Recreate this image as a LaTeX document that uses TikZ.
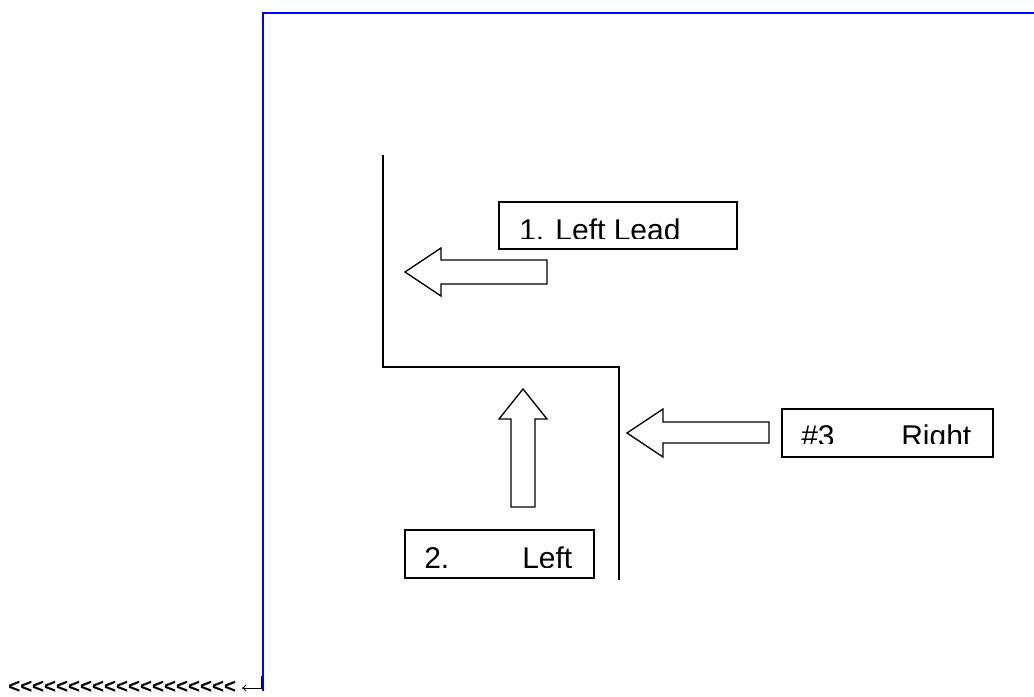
\documentclass[tikz,border=0pt]{standalone}
\usepackage{fontspec}
\setmainfont{Liberation Sans}
\newfontfamily\chevfont[Ligatures=TeXOff]{Liberation Sans Bold}
\usetikzlibrary{arrows.meta}
\begin{document}
\begin{tikzpicture}[x=0.75pt,y=-0.75pt,
  wall/.style={draw=black,line width=1.5pt},
  frame/.style={draw=blue,line width=1.5pt},
  bigarrow/.style={draw=black,line width=1pt,fill=white,line join=miter},
  labelbox/.style={draw=black,line width=1.5pt,fill=white},
  lbl/.style={anchor=base west,inner sep=0pt,font=\fontsize{22.5pt}{24pt}\selectfont},
  chev/.style={anchor=base west,inner sep=0pt,font=\chevfont\fontsize{15.4pt}{18pt}\selectfont}]
\useasboundingbox (0,0) rectangle (1034,696);
% blue frame
\coordinate (fA) at (1034,13);
\coordinate (fB) at (263,13);
\coordinate (fC) at (263,691);
\draw[frame] (fA) -- (fB) -- (fC);
% walls
\coordinate (w1) at (383,155);
\coordinate (w2) at (383,367);
\coordinate (w3) at (619,367);
\coordinate (w4) at (619,580);
\draw[wall] (w1) -- (w2) -- (w3) -- (w4);
% arrow 1 (left)
\draw[bigarrow] (405,272) -- (441,248) -- (441,260) -- (547,260) -- (547,284) -- (441,284) -- (441,296) -- cycle;
% arrow 2 (up)
\draw[bigarrow] (523,389) -- (547,419) -- (535,419) -- (535,507) -- (511,507) -- (511,419) -- (499,419) -- cycle;
% arrow 3 (left)
\draw[bigarrow] (627,433) -- (663,409) -- (663,422) -- (769,422) -- (769,443) -- (663,443) -- (663,457) -- cycle;
% label boxes
\path[labelbox] (499,202) rectangle (737,249);
\path[labelbox] (405,530) rectangle (594,578);
\path[labelbox] (782,409) rectangle (993,457);
\begin{scope}
\clip (500,203) rectangle (736,238);
\node[lbl] (t1) at (519,240) {1. Left Lead};
\end{scope}
\begin{scope}
\clip (406,531) rectangle (593,567);
\node[lbl] (t2a) at (424,568) {2.};
\node[lbl] (t2b) at (522,568) {Left};
\end{scope}
\begin{scope}
\clip (783,410) rectangle (992,443);
\node[lbl] (t3a) at (801,446) {\#3};
\node[lbl] (t3b) at (901,446) {Right};
\end{scope}
% chevrons
\node[chev] (chv) at (8,693) {<<<<<<<<<<<<<<<<<<<};
% return mark
\coordinate (r1) at (261,676);
\coordinate (r2) at (261,688);
\coordinate (r3) at (242,688);
\draw[line width=0.6pt,-{To[length=3pt,width=5pt]}] (r1) -- (r2) -- (r3);
\end{tikzpicture}
\end{document}
